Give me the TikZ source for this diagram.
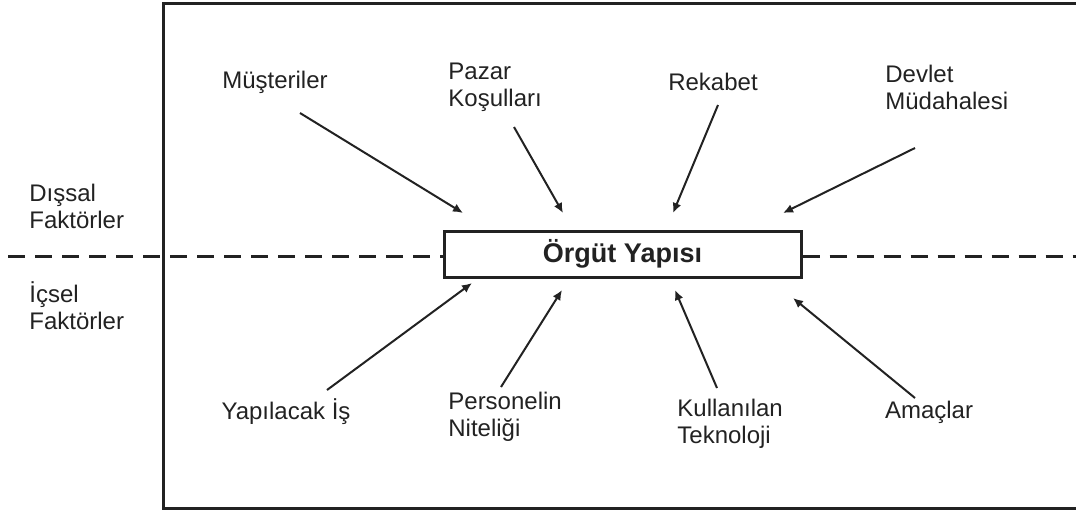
\documentclass[tikz,border=0pt]{standalone}
\usepackage{fontspec}
\setmainfont{Liberation Sans}
\usetikzlibrary{arrows.meta}
\definecolor{ink}{HTML}{222222}

\begin{document}
\begin{tikzpicture}[x=0.5pt, y=-0.5pt,
	every node/.style={font=\fontsize{12}{13.5}\selectfont, align=left, inner sep=0pt, text=ink},
	frame/.style={draw=ink, line width=1.5pt},
	dashline/.style={draw=ink, line width=1.5pt, dash pattern=on 8.5pt off 5pt},
	arr/.style={draw=ink, line width=1pt, -{Latex[length=5pt, width=4.5pt]}},
	kutu/.style={draw=ink, line width=1.5pt, fill=white, minimum width=178.5pt, minimum height=23pt, font=\fontsize{13.5}{16}\selectfont\bfseries}]
				\useasboundingbox (0,0) rectangle (1076,511);
				
				\draw[frame] (1080,3) -- (163,3) -- (163,508) -- (1080,508);
				
				\node[kutu] (yapi) at (622.5,254) {Örgüt Yapısı};
				
				\coordinate (dl) at (8,256);
				\coordinate (dr) at (1076,256);
				\draw[dashline] (dl) -- (yapi.west |- dl);
				\draw[dashline] (yapi.east |- dr) -- (dr);
				
				\node[anchor=west] (dis) at (29,206) {Dışsal\\Faktörler};
				\node[anchor=west] (ic) at (29,306) {İçsel\\Faktörler};
				
				\node (mus) at (275,82) {Müşteriler};
				\node[anchor=west] (pazar) at (448,87) {Pazar\\Koşulları};
				\node (rek) at (713,82) {Rekabet};
				\node[anchor=west] (dev) at (885,87) {Devlet\\Müdahalesi};
				
				\node (is) at (286,412) {Yapılacak İş};
				\node[anchor=west] (per) at (448,417) {Personelin\\Niteliği};
				\node[anchor=west] (tek) at (677,424) {Kullanılan\\Teknoloji};
				\node (amac) at (929,412) {Amaçlar};
				
				% dis faktorler
				\coordinate (m1) at (300,113);  \coordinate (m2) at (463,213);
				\coordinate (p1) at (514,127);  \coordinate (p2) at (563,213);
				\coordinate (r1) at (718,105);  \coordinate (r2) at (673,213);
				\coordinate (d1) at (915,148);  \coordinate (d2) at (783,213);
				% ic faktorler
				\coordinate (i1) at (327,390);  \coordinate (i2) at (472,283);
				\coordinate (n1) at (501,387);  \coordinate (n2) at (562,290);
				\coordinate (t1) at (717,388);  \coordinate (t2) at (675,290);
				\coordinate (a1) at (915,398);  \coordinate (a2) at (793,298);
				
				\path (m1) edge[arr] (m2);
				\path (p1) edge[arr] (p2);
				\path (r1) edge[arr] (r2);
				\path (d1) edge[arr] (d2);
				\path (i1) edge[arr] (i2);
				\path (n1) edge[arr] (n2);
				\path (t1) edge[arr] (t2);
				\path (a1) edge[arr] (a2);
				\end{tikzpicture}
\end{document}
